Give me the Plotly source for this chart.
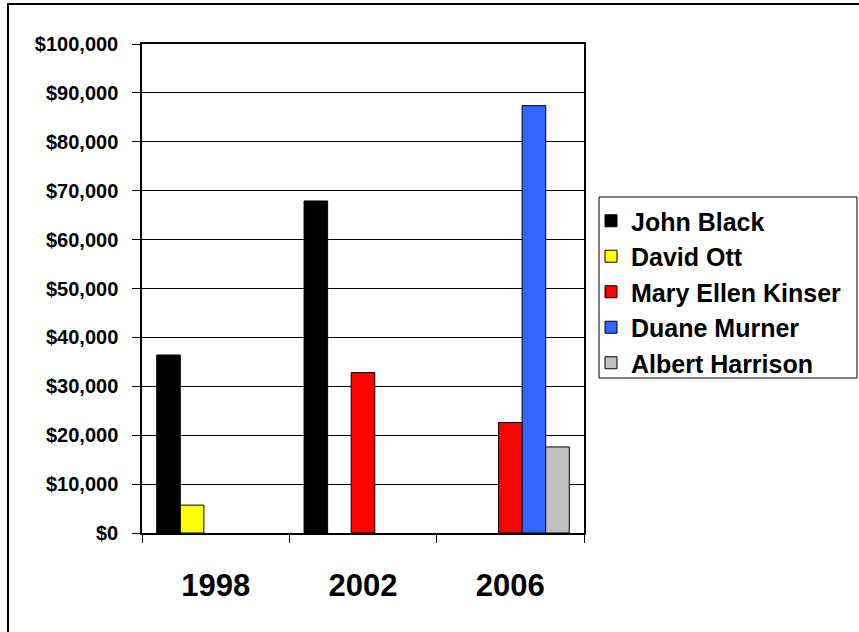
import plotly.graph_objects as go

# Contributions by candidate and election year
years = ["1998", "2002", "2006"]
john_black = [36400, 67900, None]
david_ott = [5700, None, None]
mary_ellen_kinser = [None, 32800, 22600]
duane_murner = [None, None, 87400]
albert_harrison = [None, None, 17600]

series = [
    ("John Black", john_black, "#000000"),
    ("David Ott", david_ott, "#FFFF00"),
    ("Mary Ellen Kinser", mary_ellen_kinser, "#FF0000"),
    ("Duane Murner", duane_murner, "#3366FF"),
    ("Albert Harrison", albert_harrison, "#C0C0C0"),
]

FONT = "Arial, Liberation Sans, sans-serif"

fig = go.Figure()
for name, vals, color in series:
    fig.add_trace(go.Bar(
        name=name, x=years, y=vals,
        marker=dict(color=color, line=dict(color="#000000", width=1)),
    ))

W, H = 859, 632
L, R, T, B = 142, 275, 44, 99
pw = W - L - R
ph = H - T - B

fig.update_layout(
    width=W, height=H,
    margin=dict(l=L, r=R, t=T, b=B, autoexpand=False),
    paper_bgcolor="white", plot_bgcolor="white",
    barmode="group", bargap=0.2, bargroupgap=0,
    font=dict(family=FONT, color="#000000"),
    legend=dict(
        xref="container", yref="container",
        x=591 / W, xanchor="left",
        y=1 - 198 / H, yanchor="top",
        borderwidth=0, bgcolor="rgba(0,0,0,0)",
        font=dict(family=FONT, size=25, color="#000000", weight="bold"),
        traceorder="normal",
    ),
    showlegend=True,
)

fig.update_xaxes(
    showline=True, linecolor="#000000", linewidth=1.5, mirror=True,
    ticks="outside", tickson="boundaries", ticklen=8, tickcolor="#000000", tickwidth=1,
    tickfont=dict(family=FONT, size=31, color="#000000", weight="bold"),
    ticklabelstandoff=24,
    showgrid=False,
)
fig.update_yaxes(
    range=[0, 100000], dtick=10000, tickprefix="$", tickformat=",",
    showline=True, linecolor="#000000", linewidth=1.5, mirror=True,
    ticks="outside", ticklen=8, tickcolor="#000000", tickwidth=1,
    tickfont=dict(family=FONT, size=20, color="#000000", weight="bold"),
    ticklabelstandoff=10,
    showgrid=True, gridcolor="#000000", gridwidth=1,
    zeroline=False,
)

# Outer chart frame (left and top edges visible within the page)
fig.add_shape(
    type="rect", xref="paper", yref="paper",
    x0=(8 - L) / pw, x1=(W + 20 - L) / pw,
    y0=(H - B - (H + 20)) / ph, y1=(H - B - 4) / ph,
    line=dict(color="#000000", width=2), fillcolor="rgba(0,0,0,0)",
    layer="below",
)

# Legend box
fig.add_shape(
    type="rect", xref="paper", yref="paper",
    x0=(599 - L) / pw, x1=(857 - L) / pw,
    y0=(H - B - 378) / ph, y1=(H - B - 197) / ph,
    line=dict(color="#000000", width=1), fillcolor="white",
    layer="below",
)

fig.write_html("out.html")
